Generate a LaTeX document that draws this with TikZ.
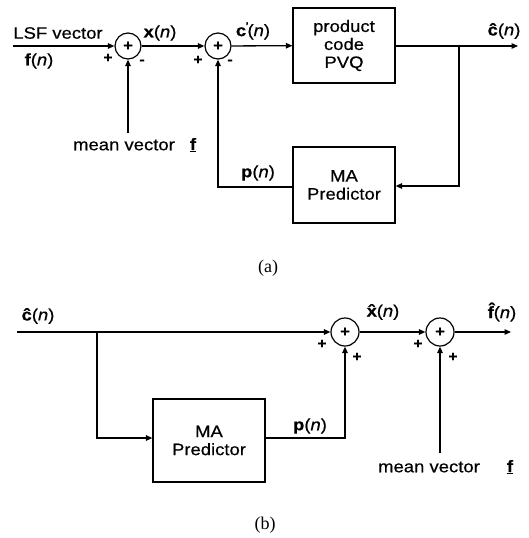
\documentclass[tikz,border=0pt]{standalone}
\usepackage{fontspec}
\setmainfont{Liberation Sans}[FakeStretch=1.12,FakeBold=0.5]
\newfontfamily\capfont{Liberation Serif}
\usetikzlibrary{arrows.meta}
\begin{document}
\begin{tikzpicture}[x=1pt,y=-1pt,
  every node/.style={font=\fontsize{16.5}{18}\selectfont},
  wire/.style={line width=1.3pt},
  arr/.style={wire,-{Triangle[length=6.5pt,width=5.5pt]}},
  sumnode/.style={draw,circle,line width=1.2pt,minimum size=26pt,inner sep=0pt,font=\fontsize{15}{15}\bfseries},
  blockbox/.style={draw,line width=1.2pt,align=center,inner sep=0pt},
  sgn/.style={inner sep=0pt,font=\fontsize{14}{14}\bfseries},
  capt/.style={font=\capfont\fontsize{18}{18}\selectfont}]
\useasboundingbox (0,0) rectangle (528,538);
% ---------- (a) ----------
\coordinate (ain) at (13,46);
\node[sumnode] (s1) at (128,46) {+};
\node[sumnode] (s2) at (218,46) {+};
\node[blockbox,minimum width=102pt,minimum height=75pt] (pvq) at (344,45.5) {product\\code\\PVQ};
\node[blockbox,minimum width=102pt,minimum height=76pt] (maa) at (344,185) {MA\\Predictor};
\coordinate (aout) at (518,46);
\coordinate (abr) at (459,46);
\coordinate (abr2) at (459,186);
\coordinate (amean) at (128,133);
\coordinate (apc) at (218,187);
\draw[arr] (ain) -- (s1);
\draw[arr] (s1) -- (s2);
\draw[arr] (s2) -- (pvq);
\draw[arr] (pvq.east |- aout) -- (aout);
\draw[arr] (abr) -- (abr2) -- (maa.east |- abr2);
\draw[arr] (maa.west |- apc) -- (apc) -- (s2.south);
\draw[arr] (amean) -- (s1.south);
\node (lsf) at (58,33) {LSF vector};
\node (fn) at (39,61) {\textbf{f}(\textit{n})};
\node[sgn] (p1) at (108,58) {+};
\node[sgn] (m1) at (142,62) {-};
\node (xn) at (160,33) {\textbf{x}(\textit{n})};
\node[sgn] (p2) at (198,60) {+};
\node[sgn] (m2) at (230,62) {-};
\node (cpn) at (253,31) {\textbf{c}\kern-0.5pt\raisebox{0.45em}{\fontsize{9}{9}\selectfont\textbf{'}}\kern-1pt(\textit{n})};
\node (chn) at (504,31) {\textbf{ĉ}(\textit{n})};
\node (pna) at (258,173) {\textbf{p}(\textit{n})};
\node (mva) at (124,145) {mean vector};
\node (fba) at (193,145) {\underline{\textbf{f}}};
\node[capt] (capa) at (268,268) {(a)};
% ---------- (b) ----------
\coordinate (bin) at (17,332);
\node[sumnode,minimum size=28pt] (s3) at (345,332) {+};
\node[sumnode,minimum size=28pt] (s4) at (440,332) {+};
\node[blockbox,minimum width=112pt,minimum height=83pt] (mab) at (209,440.5) {MA\\Predictor};
\coordinate (bbr) at (97,332);
\coordinate (bbr2) at (97,438);
\coordinate (bpc) at (345,438);
\coordinate (bmean) at (440,453);
\coordinate (bout) at (511,332);
\draw[arr] (bin) -- (s3);
\draw[arr] (bbr) -- (bbr2) -- (mab.west |- bbr2);
\draw[arr] (mab.east |- bpc) -- (bpc) -- (s3.south);
\draw[arr] (s3) -- (s4);
\draw[arr] (s4) -- (bout);
\draw[arr] (bmean) -- (s4.south);
\node (chb) at (38,316) {\textbf{ĉ}(\textit{n})};
\node (xhb) at (383,312) {\textbf{x^^^^0302}\kern-3.5pt(\textit{n})};
\node (fhb) at (502,312) {\textbf{f^^^^0302}\kern-3.5pt(\textit{n})};
\node (pnb) at (310,426) {\textbf{p}(\textit{n})};
\node[sgn] (p3) at (322,344) {+};
\node[sgn] (p4) at (357,357) {+};
\node[sgn] (p5) at (418,344) {+};
\node[sgn] (p6) at (453,357) {+};
\node (mvb) at (429,467) {mean vector};
\node (fbb) at (510,467) {\underline{\textbf{f}}};
\node[capt] (capb) at (265,525) {(b)};
\end{tikzpicture}
\end{document}
